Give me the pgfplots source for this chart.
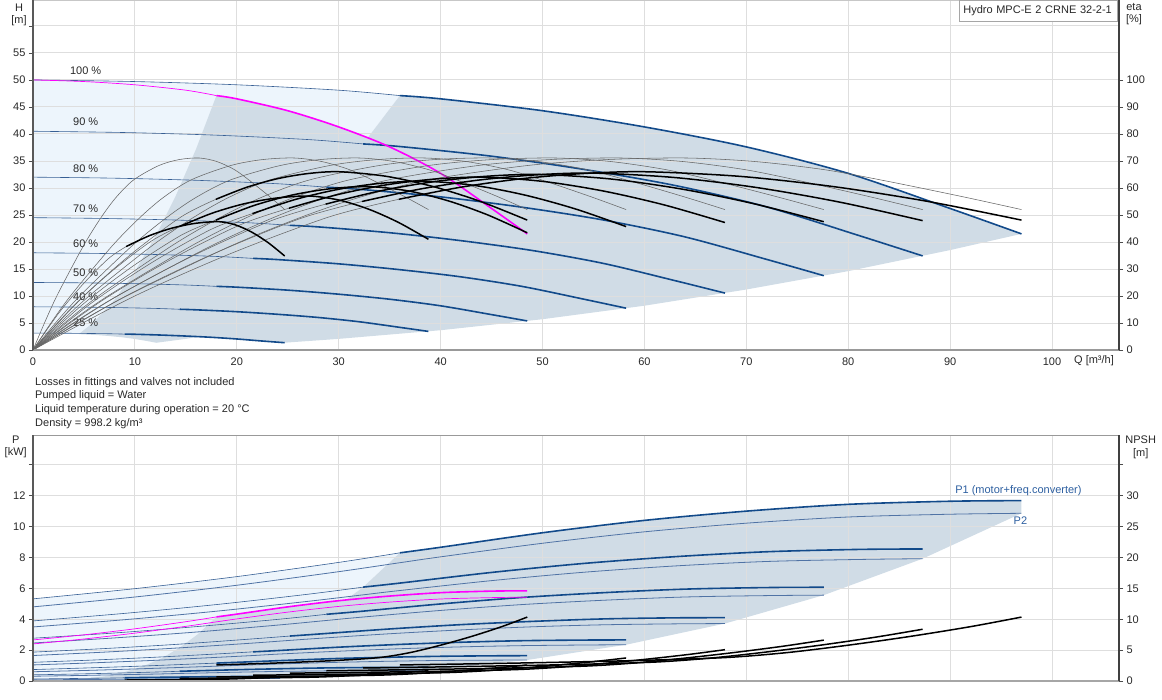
\documentclass[border=0pt]{standalone}
\usepackage{fontspec}
\setmainfont{Liberation Sans}
\usepackage{pgfplots}
\usepackage{pgfplotstable}
\pgfplotsset{compat=1.18}
\definecolor{cblue}{RGB}{18,74,138}
\definecolor{tblue}{RGB}{55,95,148}
\definecolor{p2blue}{RGB}{80,115,165}
\definecolor{lblue}{RGB}{45,95,160}
\definecolor{regiongray}{RGB}{208,220,230}
\definecolor{regionlight}{RGB}{237,245,252}
\definecolor{gridc}{RGB}{222,222,222}
\definecolor{txt}{RGB}{40,40,40}
\definecolor{mag}{RGB}{255,0,255}
\newcommand{\fs}{\fontsize{11}{13}\selectfont}

\pgfplotstableread{
eta Qa Qb Qc Qd Qe Qf Qg Qh
0 0 0 0 0 0 0 0 0
11 1.24 1.94 2.43 2.91 3.40 3.88 4.37 4.85
21 2.47 3.88 4.85 5.82 6.79 7.76 8.73 9.70
38.5 4.94 7.76 9.70 11.64 13.58 15.52 17.46 19.40
49 6.67 10.48 13.10 15.71 18.33 20.95 23.57 26.19
56.5 8.15 12.80 16.00 19.21 22.41 25.61 28.81 32.01
63 9.88 15.52 19.40 23.28 27.16 31.04 34.92 38.80
68.3 12.35 19.40 24.25 29.10 33.95 38.80 43.65 48.50
70.5 14.33 22.50 28.13 33.76 39.38 45.01 50.63 56.26
71.1 16.30 25.61 32.01 38.41 44.81 51.22 57.62 64.02
69.8 18.03 28.32 35.41 42.49 49.57 56.65 63.73 70.81
66.8 19.76 31.04 38.80 46.56 54.32 62.08 69.84 77.60
62.8 21.24 33.37 41.71 50.05 58.39 66.74 75.08 83.42
56.8 23.22 36.47 45.59 54.71 63.83 72.94 82.06 91.18
52 24.70 38.80 48.50 58.20 67.90 77.60 87.30 97.00
}\thintab

\pgfplotsset{
 base/.style={scale only axis, width=1086pt, xmin=0, xmax=106.57,
   tick label style={font=\fs, text=txt},
   /pgf/number format/assume math mode=true,
   tick align=outside, major tick length=4pt,
   tick style={black!70, line width=0.8pt},
   axis line style={draw=none}},
 fillgray/.style={fill=regiongray, draw=none, on layer=axis background},
 filllight/.style={fill=regionlight, draw=none, on layer=axis background},
 bthick/.style={cblue, line width=1.6pt, smooth},
 bthin/.style={tblue, line width=0.6pt, smooth},
 ptwo/.style={p2blue, line width=0.8pt, smooth},
 kthick/.style={black, line width=1.5pt, smooth},
 kthin/.style={black!60, line width=0.55pt, smooth},
 mthick/.style={mag, line width=1.6pt, smooth},
 mthin/.style={mag, line width=0.7pt, smooth},
}

\begin{document}
\begin{tikzpicture}[x=1pt,y=1pt]

% ================= TOP: H axis =================
\begin{axis}[base, name=top, at={(33pt,-350pt)}, anchor=south west, height=350pt,
  set layers, ymin=0, ymax=64.8,
  xtick={0,10,...,100}, ytick={0,5,...,60},
  yticklabels={0,5,10,15,20,25,30,35,40,45,50,55,{}},
  ytick pos=left, xtick pos=bottom, xtick style={draw=none},
  grid=major, major grid style={gridc, line width=0.9pt}]
% regions
\addplot[filllight] coordinates {(0,50)(10,49.7)(20,49.1)(30,48.1)(36,47.1)(32,37.2)(28,28.5)(24,20.93)(20,14.54)(16,9.3)(12,5.23)(9,2.94)(7.5,3.01)(5,3.07)(2.5,3.11)(0,3.125)};
\addplot[fillgray] coordinates {(4.5,2.94)(6,5.23)(8,9.3)(10,14.54)(12,20.94)(14,28.5)(16,37.2)(18,47.1)(20,46.5)(25,44.3)(30,41.3)(35,37.6)(40,32.7)(45,26.2)(48.5,21.5)(45,18.5)(40,14.6)(35,11.2)(30,8.2)(25,5.7)(20,3.66)(15,2.06)(12.1,1.34)(11.25,1.64)(10,2.04)(8.75,2.35)(7.5,2.58)(6.25,2.77)(4.5,2.94)};
\addplot[fillgray] coordinates {(9,2.94)(12,5.23)(16,9.3)(20,14.54)(24,20.93)(28,28.5)(32,37.2)(36,47.1)(40,46.5)(50,44.3)(60,41.3)(70,37.6)(80,32.7)(90,26.2)(97,21.5)(90,18.5)(80,14.6)(70,11.2)(60,8.2)(50,5.7)(40,3.66)(30,2.06)(24.7,1.35)(22.5,1.64)(20,2.04)(17.5,2.35)(15,2.58)(12.5,2.77)(10,2.91)(9,2.94)};
% speed curves (2 pumps)
\addplot[bthin] coordinates {(0,50)(10,49.7)(20,49.1)(30,48.1)(36,47.1)};
\addplot[bthick] coordinates {(36,47.1)(40,46.5)(50,44.3)(60,41.3)(70,37.6)(80,32.7)(90,26.2)(97,21.5)};
\addplot[bthin] coordinates {(0,40.5)(9,40.26)(18,39.77)(27,38.96)(32.4,38.15)};
\addplot[bthick] coordinates {(32.4,38.15)(36,37.67)(45,35.88)(54,33.45)(63,30.46)(72,26.49)(81,21.22)(87.3,17.42)};
\addplot[bthin] coordinates {(0,32)(8,31.81)(16,31.42)(24,30.78)(28.8,30.14)};
\addplot[bthick] coordinates {(28.8,30.14)(32,29.76)(40,28.35)(48,26.43)(56,24.06)(64,20.93)(72,16.77)(77.6,13.76)};
\addplot[bthin] coordinates {(0,24.5)(7,24.35)(14,24.06)(21,23.57)(25.2,23.08)};
\addplot[bthick] coordinates {(25.2,23.08)(28,22.79)(35,21.71)(42,20.24)(49,18.42)(56,16.02)(63,12.84)(67.9,10.54)};
\addplot[bthin] coordinates {(0,18)(6,17.89)(12,17.68)(18,17.32)(21.6,16.96)};
\addplot[bthick] coordinates {(21.6,16.96)(24,16.74)(30,15.95)(36,14.87)(42,13.54)(48,11.77)(54,9.43)(58.2,7.74)};
\addplot[bthin] coordinates {(0,12.5)(5,12.43)(10,12.28)(15,12.03)(18,11.78)};
\addplot[bthick] coordinates {(18,11.78)(20,11.63)(25,11.08)(30,10.33)(35,9.4)(40,8.18)(45,6.55)(48.5,5.38)};
\addplot[bthin] coordinates {(0,8)(4,7.95)(8,7.86)(12,7.7)(14.4,7.54)};
\addplot[bthick] coordinates {(14.4,7.54)(16,7.44)(20,7.09)(24,6.61)(28,6.02)(32,5.23)(36,4.19)(38.8,3.44)};
\addplot[bthin] coordinates {(0,3.125)(2.5,3.11)(5,3.07)(7.5,3.01)(9,2.94)};
\addplot[bthick] coordinates {(9,2.94)(10,2.91)(12.5,2.77)(15,2.58)(17.5,2.35)(20,2.04)(22.5,1.66)(24.7,1.35)};
% 1 pump 100% (selected)
\addplot[mthin] coordinates {(0,50)(5,49.7)(10,49.1)(15,48.1)(18,47.1)};
\addplot[mthick] coordinates {(18,47.1)(20,46.5)(25,44.3)(30,41.3)(35,37.6)(40,32.7)(45,26.2)(48.5,21.5)};
% labels
\node[font=\fs, text=txt] at (axis cs:5.17,51.7) {100 \%};
\node[font=\fs, text=txt] at (axis cs:5.17,42.2) {90 \%};
\node[font=\fs, text=txt] at (axis cs:5.17,33.6) {80 \%};
\node[font=\fs, text=txt] at (axis cs:5.17,26.1) {70 \%};
\node[font=\fs, text=txt] at (axis cs:5.17,19.75) {60 \%};
\node[font=\fs, text=txt] at (axis cs:5.17,14.3) {50 \%};
\node[font=\fs, text=txt] at (axis cs:5.17,9.9) {40 \%};
\node[font=\fs, text=txt] at (axis cs:5.17,5.05) {25 \%};
\end{axis}

% ================= TOP: eta axis =================
\begin{axis}[base, name=topeta, at={(33pt,-350pt)}, anchor=south west, height=350pt,
  ymin=0, ymax=129.6, axis x line=none, axis y line*=right,
  ytick={0,10,...,100}, xtick=\empty]
% pump efficiency (thin)
\addplot[kthin] table[x=Qa, y=eta] {\thintab};
\addplot[kthin] table[x=Qb, y=eta] {\thintab};
\addplot[kthin] table[x=Qc, y=eta] {\thintab};
\addplot[kthin] table[x=Qd, y=eta] {\thintab};
\addplot[kthin] table[x=Qe, y=eta] {\thintab};
\addplot[kthin] table[x=Qf, y=eta] {\thintab};
\addplot[kthin] table[x=Qg, y=eta] {\thintab};
\addplot[kthin] table[x=Qh, y=eta] {\thintab};
% total efficiency, thin part
\addplot[kthin] coordinates {(0,0)(2.47,13.37)(4.94,24.51)(7.41,33.86)(9.14,38.3)};
\addplot[kthin] coordinates {(0,0)(3.88,15.95)(7.76,29.25)(11.64,40.4)(14.36,45.7)};
\addplot[kthin] coordinates {(0,0)(4.85,16.79)(9.7,30.78)(14.55,42.52)(17.95,48.1)};
\addplot[kthin] coordinates {(0,0)(5.82,17.62)(11.64,32.32)(17.46,44.64)(21.53,50.5)};
\addplot[kthin] coordinates {(0,0)(6.79,18.32)(13.58,33.6)(20.37,46.41)(25.12,52.5)};
\addplot[kthin] coordinates {(0,0)(7.76,18.85)(15.52,34.56)(23.28,47.74)(28.71,54)};
\addplot[kthin] coordinates {(0,0)(8.73,19.2)(17.46,35.2)(26.19,48.62)(32.3,55)};
\addplot[kthin] coordinates {(0,0)(9.7,19.47)(19.4,35.71)(29.1,49.33)(35.89,55.8)};
\addplot[kthin] coordinates {(0,0)(4.85,19.47)(9.7,35.71)(14.55,49.33)(17.95,55.8)};
% total efficiency, thick part
\addplot[kthick] coordinates {(9.14,38.3)(11.42,42.33)(13.71,45.2)(15.99,46.93)(18.28,47.5)(19.88,46.3)(21.49,43.59)(23.09,39.71)(24.7,34.8)};
\addplot[kthick] coordinates {(14.36,45.7)(17.56,50.64)(20.76,54.18)(23.96,56.29)(27.16,57)(30.07,55.48)(32.98,52.08)(35.89,47.19)(38.8,41)};
\addplot[kthick] coordinates {(17.95,48.1)(21.70,53.53)(25.46,57.4)(29.22,59.73)(32.98,60.5)(36.86,58.88)(40.74,55.24)(44.62,50.02)(48.5,43.4)};
\addplot[kthick] coordinates {(21.53,50.5)(25.75,55.75)(29.97,59.5)(34.19,61.75)(38.41,62.5)(43.36,60.91)(48.31,57.33)(53.25,52.2)(58.2,45.7)};
\addplot[kthick] coordinates {(25.12,52.5)(29.88,57.53)(34.63,61.13)(39.38,63.28)(44.14,64)(50.08,62.41)(56.02,58.83)(61.96,53.7)(67.9,47.2)};
\addplot[kthick] coordinates {(28.71,54)(33.95,58.81)(39.19,62.25)(44.43,64.31)(49.66,65)(56.65,63.34)(63.63,59.61)(70.62,54.27)(77.6,47.5)};
\addplot[kthick] coordinates {(32.3,55)(37.98,59.59)(43.65,62.88)(49.32,64.84)(55,65.5)(63.07,63.83)(71.15,60.08)(79.22,54.71)(87.3,47.9)};
\addplot[kthick] coordinates {(35.89,55.8)(41.95,60.26)(48.02,63.45)(54.08,65.36)(60.14,66)(69.36,64.3)(78.57,60.49)(87.79,55.03)(97,48.1)};
\addplot[kthick] coordinates {(17.95,55.8)(20.98,60.26)(24.01,63.45)(27.04,65.36)(30.07,66)(34.68,64.3)(39.29,60.49)(43.89,55.03)(48.5,48.1)};
\end{axis}

% borders top
\draw[black!22, line width=0.9pt] (top.north west) -- (top.north east);
\draw[black!40, line width=1.8pt] (top.south west) -- (top.south east);
\draw[black!65, line width=1.6pt] (top.south west) -- (top.north west);
\draw[black!75, line width=1.2pt] (top.south east) -- (top.north east);

% ================= BOTTOM: P axis =================
\begin{axis}[base, name=bot, at={(33pt,-681pt)}, anchor=south west, height=246pt,
  set layers, ymin=0, ymax=15.93,
  xtick={0,10,...,100}, xticklabels={}, ytick={0,2,...,14},
  yticklabels={0,2,4,6,8,10,12,{}},
  ytick pos=left, xtick pos=bottom, xtick style={draw=none},
  grid=major, major grid style={gridc, line width=0.9pt}]
\addplot[filllight] coordinates {(0,5.32)(10,5.98)(20,6.76)(30,7.68)(36,8.3)(32.4,6.08)(28.8,4.32)(25.2,2.91)(21.6,1.89)(18,1.16)(14.4,0.63)(9,0.21)(7.5,0.19)(5,0.17)(2.5,0.15)(0,0.13)};
\addplot[fillgray] coordinates {(4.5,0.10)(7.2,0.32)(9,0.58)(10.8,0.95)(12.6,1.46)(14.4,2.16)(16.2,3.04)(18,4.15)(20,4.33)(25,4.8)(30,5.2)(35,5.5)(40,5.72)(45,5.82)(48.5,5.84)(48.5,5.43)(43.65,3.96)(38.8,2.78)(33.95,1.86)(29.1,1.17)(24.25,0.68)(19.4,0.35)(12.1,0.085)(4.5,0.06)};
\addplot[fillgray] coordinates {(9,0.21)(14.4,0.63)(18,1.16)(21.6,1.89)(25.2,2.91)(28.8,4.32)(32.4,6.08)(36,8.3)(40,8.66)(50,9.6)(60,10.4)(70,11.0)(80,11.44)(90,11.64)(97,11.68)(97,10.86)(87.3,7.92)(77.6,5.56)(67.9,3.72)(58.2,2.35)(48.5,1.36)(38.8,0.70)(24.25,0.17)(9,0.12)};
% P2 curves
\addplot[ptwo] coordinates {(0,4.8)(10,5.44)(20,6.2)(30,7.08)(36,7.66)(40,8.04)(50,8.92)(60,9.66)(70,10.22)(80,10.62)(90,10.8)(97,10.86)};
\addplot[ptwo] coordinates {(0,3.5)(9,3.97)(18,4.52)(27,5.16)(32.4,5.58)(36,5.86)(45,6.5)(54,7.04)(63,7.45)(72,7.74)(81,7.87)(87.3,7.92)};
\addplot[ptwo] coordinates {(0,2.46)(8,2.79)(16,3.17)(24,3.62)(28.8,3.92)(32,4.12)(40,4.57)(48,4.95)(56,5.23)(64,5.44)(72,5.53)(77.6,5.56)};
\addplot[ptwo] coordinates {(0,1.65)(7,1.87)(14,2.13)(21,2.43)(25.2,2.63)(28,2.76)(35,3.06)(42,3.31)(49,3.51)(56,3.64)(63,3.7)(67.9,3.72)};
\addplot[ptwo] coordinates {(0,1.04)(6,1.18)(12,1.34)(18,1.53)(21.6,1.65)(24,1.74)(30,1.93)(36,2.09)(42,2.21)(48,2.29)(54,2.33)(58.2,2.35)};
\addplot[ptwo] coordinates {(0,0.6)(5,0.68)(10,0.78)(15,0.89)(18,0.96)(20,1.01)(25,1.12)(30,1.21)(35,1.28)(40,1.33)(45,1.35)(48.5,1.36)};
\addplot[ptwo] coordinates {(0,0.31)(4,0.35)(8,0.4)(12,0.45)(14.4,0.49)(16,0.51)(20,0.57)(24,0.62)(28,0.65)(32,0.68)(36,0.69)(38.8,0.7)};
\addplot[ptwo] coordinates {(0,0.075)(5,0.097)(10,0.126)(15,0.15)(20,0.166)(24.25,0.17)};
% P1 curves
\addplot[bthin] coordinates {(0,5.32)(10,5.98)(20,6.76)(30,7.68)(36,8.3)};
\addplot[bthick] coordinates {(36,8.3)(40,8.66)(50,9.6)(60,10.4)(70,11.0)(80,11.44)(90,11.64)(97,11.68)};
\addplot[bthin] coordinates {(0,3.89)(9,4.38)(18,4.95)(27,5.62)(32.4,6.08)};
\addplot[bthick] coordinates {(32.4,6.08)(36,6.34)(45,7.03)(54,7.61)(63,8.05)(72,8.37)(81,8.52)(87.3,8.55)};
\addplot[bthin] coordinates {(0,2.77)(8,3.11)(16,3.52)(24,3.99)(28.8,4.32)};
\addplot[bthick] coordinates {(28.8,4.32)(32,4.5)(40,4.99)(48,5.41)(56,5.72)(64,5.95)(72,6.05)(77.6,6.07)};
\addplot[bthin] coordinates {(0,1.87)(7,2.1)(14,2.37)(21,2.7)(25.2,2.91)};
\addplot[bthick] coordinates {(25.2,2.91)(28,3.04)(35,3.37)(42,3.65)(49,3.86)(56,4.02)(63,4.09)(67.9,4.1)};
\addplot[bthin] coordinates {(0,1.21)(6,1.36)(12,1.54)(18,1.75)(21.6,1.89)};
\addplot[bthick] coordinates {(21.6,1.89)(24,1.97)(30,2.19)(36,2.37)(42,2.51)(48,2.61)(54,2.65)(58.2,2.66)};
\addplot[bthin] coordinates {(0,0.74)(5,0.84)(10,0.95)(15,1.08)(18,1.16)};
\addplot[bthick] coordinates {(18,1.16)(20,1.21)(25,1.34)(30,1.46)(35,1.54)(40,1.6)(45,1.63)(48.5,1.64)};
\addplot[bthin] coordinates {(0,0.4)(4,0.45)(8,0.51)(12,0.58)(14.4,0.63)};
\addplot[bthick] coordinates {(14.4,0.63)(16,0.66)(20,0.73)(24,0.79)(28,0.84)(32,0.87)(36,0.88)(38.8,0.89)};
\addplot[bthin] coordinates {(0,0.13)(2.5,0.15)(5,0.17)(7.5,0.19)(9,0.21)};
\addplot[bthick] coordinates {(9,0.21)(10,0.22)(12.5,0.24)(15,0.26)(17.5,0.28)(20,0.29)(22.5,0.29)(24.25,0.29)};
% 1 pump 100% (selected)
\addplot[mthin] coordinates {(0,2.4)(5,2.72)(10,3.1)(15,3.54)(18,3.83)(20,4.02)(25,4.46)(30,4.83)(35,5.11)(40,5.31)(45,5.4)(48.5,5.43)};
\addplot[mthin] coordinates {(0,2.66)(5,2.99)(10,3.38)(15,3.84)(18,4.15)};
\addplot[mthick] coordinates {(18,4.15)(20,4.33)(25,4.8)(30,5.2)(35,5.5)(40,5.72)(45,5.82)(48.5,5.84)};
\node[font=\fs, text=lblue] at (axis cs:96.7,12.3) {P1 (motor+freq.converter)};
\node[font=\fs, text=lblue] at (axis cs:96.9,10.4) {P2};
\end{axis}

% ================= BOTTOM: NPSH axis =================
\begin{axis}[base, name=botn, at={(33pt,-681pt)}, anchor=south west, height=246pt,
  ymin=0, ymax=39.83, axis x line=none, axis y line*=right,
  ytick={0,5,...,35}, yticklabels={0,5,10,15,20,25,30,{}}, xtick=\empty]
\addplot[kthick] coordinates {(36,2.6)(44,2.8)(52,3.05)(60,3.35)(68,3.8)(74,4.6)(80,5.8)(86,7.2)(92,8.8)(97,10.35)};
\addplot[kthick] coordinates {(32.4,2.11)(39.6,2.27)(46.8,2.47)(54,2.71)(61.2,3.08)(66.6,3.73)(72,4.70)(77.4,5.83)(82.8,7.13)(87.3,8.38)};
\addplot[kthick] coordinates {(28.8,1.66)(35.2,1.79)(41.6,1.95)(48,2.14)(54.4,2.43)(59.2,2.94)(64,3.71)(68.8,4.61)(73.6,5.63)(77.6,6.62)};
\addplot[kthick] coordinates {(25.2,1.27)(30.8,1.37)(36.4,1.49)(42,1.64)(47.6,1.86)(51.8,2.25)(56,2.84)(60.2,3.53)(64.4,4.31)(67.9,5.07)};
\addplot[kthick] coordinates {(21.6,0.94)(26.4,1.01)(31.2,1.10)(36,1.21)(40.8,1.37)(44.4,1.66)(48,2.09)(51.6,2.59)(55.2,3.17)(58.2,3.73)};
\addplot[kthick] coordinates {(18,0.65)(22,0.70)(26,0.76)(30,0.84)(34,0.95)(37,1.15)(40,1.45)(43,1.8)(46,2.2)(48.5,2.59)};
\addplot[kthick] coordinates {(14.4,0.42)(17.6,0.45)(20.8,0.49)(24,0.54)(27.2,0.61)(29.6,0.74)(32,0.93)(34.4,1.15)(36.8,1.41)(38.8,1.66)};
\addplot[kthick] coordinates {(9,0.16)(11,0.18)(13,0.19)(15,0.21)(17,0.24)(18.5,0.29)(20,0.36)(21.5,0.45)(23,0.55)(24.25,0.65)};
\addplot[kthick] coordinates {(18,2.6)(22,2.8)(26,3.05)(30,3.35)(34,3.8)(37,4.6)(40,5.8)(43,7.2)(46,8.8)(48.5,10.35)};
\end{axis}

% borders bottom
\draw[black!40, line width=0.9pt] (bot.north west) -- (bot.north east);
\draw[black!35, line width=1.6pt] (bot.south west) -- (bot.south east);
\draw[black!65, line width=1.6pt] (bot.south west) -- (bot.north west);
\draw[black!75, line width=1.2pt] (bot.south east) -- (bot.north east);

% texts
\node[font=\fs, text=txt] at (19,-7.5) {H};
\node[font=\fs, text=txt] at (19,-20.5) {[m]};
\node[font=\fs, text=txt] at (1134,-7) {eta};
\node[font=\fs, text=txt] at (1134,-19.5) {[\%]};
\node[font=\fs, text=txt] at (1094,-361) {Q [m³/h]};
\node[draw=black!35, line width=0.6pt, fill=white, anchor=north west, minimum height=21pt,
  text width=150pt, inner xsep=4pt, inner ysep=2pt, align=left, font=\fs, text=txt] at (959,0) {Hydro MPC-E 2 CRNE 32-2-1};
\node[font=\fs, text=txt, anchor=west, inner sep=0pt] at (35,-382.3) {Losses in fittings and valves not included};
\node[font=\fs, text=txt, anchor=west, inner sep=0pt] at (35,-396) {Pumped liquid = Water};
\node[font=\fs, text=txt, anchor=west, inner sep=0pt] at (35,-410) {Liquid temperature during operation = 20 °C};
\node[font=\fs, text=txt, anchor=west, inner sep=0pt] at (35,-423.3) {Density = 998.2 kg/m³};
\node[font=\fs, text=txt] at (15.7,-440) {P};
\node[font=\fs, text=txt] at (15.7,-452.7) {[kW]};
\node[font=\fs, text=txt] at (1140.7,-440) {NPSH};
\node[font=\fs, text=txt] at (1140.7,-453.3) {[m]};
\pgfresetboundingbox
\path[use as bounding box] (0,0) rectangle (1162,-700);
\end{tikzpicture}
\end{document}
